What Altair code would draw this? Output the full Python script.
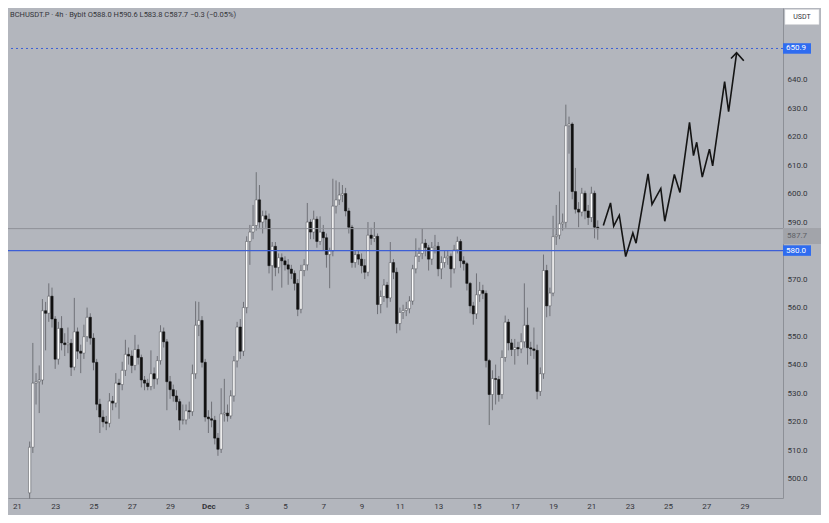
import json
import altair as alt
import pandas as pd

# ---------------- data ----------------
first_open = 495.0
start_hour = 16      # first 4h candle: Nov 21 16:00 (hours counted from Nov 21 00:00)
step_hours = 4

closes = [
    511, 533.5, 534, 534.6, 558.9, 558, 564, 556, 541.9, 552.7,
    547.6, 547, 547.5, 539.1, 551.5, 544.7, 544, 549.8, 556.6, 549.3,
    540.8, 526.1, 521.6, 519.9, 519.4, 527.2, 526.5, 533.5, 533, 538,
    543.6, 543, 539.7, 545.3, 542.5, 534.6, 533.5, 532.3, 536.8, 535,
    541.4, 551.5, 548, 534, 531.2, 529, 527, 520.5, 520.6, 523.8,
    523.5, 536.8, 553.8, 555.5, 540.8, 521.6, 521, 520.5, 514.2, 510.3,
    522.7, 523, 522, 529, 541.3, 553.2, 544.7, 560, 583.2, 586.5,
    588.8, 597.8, 590, 592.2, 591, 574.7, 581.5, 574.1, 577.5, 576.4,
    575, 573.5, 572, 568.5, 559.4, 573, 575, 590, 586.5, 591,
    583.2, 586.5, 584.5, 578.6, 579.8, 595.6, 597.8, 599.5, 600, 593.9,
    588.2, 575.8, 578.6, 577, 574.7, 572.4, 585.4, 584.3, 585, 561.1,
    563.9, 567.9, 563.4, 575.8, 572.4, 554.4, 558.3, 559, 559.6, 562.3,
    573.6, 578, 579, 582.6, 581, 577, 581, 581.5, 573.6, 575.8,
    577.5, 578, 573.6, 580.3, 583.2, 576.4, 575.4, 568.5, 560.6, 557.8,
    564.5, 566, 565, 541.4, 529.5, 535.1, 534.8, 529.5, 542.5, 554.9,
    547.6, 545.3, 546, 545.5, 548, 553.8, 545.9, 545.5, 545, 530.6,
    536.8, 573, 560.6, 565.1, 584.9, 585.4, 589.4, 589.9, 623.8, 624.4,
    600.7, 594.5, 593.5, 600.1, 593.9, 591.6, 600.1, 588.2, 587.7,
]
highs = [
    513, 547.6, 537, 539.7, 563, 562, 568.5, 567, 557, 555,
    557, 551, 553, 549, 563.4, 553, 547, 554, 560, 558,
    551, 542, 528, 524, 522, 530, 529, 537, 535, 541,
    548.7, 546, 545, 550.4, 547, 543.5, 536, 535, 545, 539,
    543, 553.8, 553, 549, 536, 533, 531, 528, 526, 526,
    527, 540, 562.2, 562, 557, 542, 524, 527, 522, 516,
    531.7, 535, 526, 531, 543, 555, 556, 562, 585, 589,
    596, 607.5, 603, 594, 594, 593, 583, 583, 579, 579,
    578, 577, 575, 573, 570, 575, 577, 596.7, 591, 594,
    592, 592, 589, 586, 581, 605.2, 604.6, 604, 603, 602,
    595, 589, 580, 580, 579, 577, 590, 588, 590, 586,
    566, 570, 569, 583, 577, 574, 560, 561, 562, 564,
    575, 584.3, 581, 587.7, 584, 582, 583, 585.5, 583, 578,
    580, 580, 579, 582, 584.9, 584, 578, 576, 569, 562,
    572, 569, 568, 566, 542, 538, 540, 536, 545, 557.2,
    556, 549, 549, 548, 551, 568.5, 560, 548, 553, 547,
    539, 578.6, 575, 567, 592.2, 596, 600.7, 593, 631.2, 627,
    625, 609, 597, 602, 601, 596, 602.4, 601, 590.6,
]
lows = [
    493, 509, 526, 523, 533, 545, 555, 553, 538.5, 540,
    545, 543, 544, 536, 538, 542, 537, 542, 548, 547,
    538, 524, 516, 518, 517, 518, 524, 525, 521, 531,
    536, 540, 537, 538, 540, 532, 531, 531, 531, 531.5,
    533, 540, 546, 524, 528, 527, 524, 517, 519, 519,
    521, 522, 535, 550, 539, 520, 516, 518, 512, 508,
    509, 520, 520, 521, 527, 539, 542, 543, 558, 575,
    584, 587, 588, 586, 588, 572, 566, 571, 572, 567,
    573, 568, 570, 566, 557, 558, 571, 573, 584, 584,
    581, 582, 580, 574, 566.8, 578, 593, 596, 597, 592,
    586, 574, 574, 575, 572, 570, 571, 582, 583, 557.7,
    558, 562, 560, 562, 570, 551, 552, 556, 557, 558,
    561, 572, 576, 577, 578, 573, 575, 579, 571, 570,
    574, 575, 567, 572, 579, 574, 573, 566, 558, 554,
    556, 562, 563, 539, 518.8, 524, 526, 527, 528, 541,
    545, 543, 540, 543, 544, 546, 540, 543, 542, 527.8,
    529, 535, 556.6, 557, 564, 582, 584, 587, 588, 614,
    598, 593, 588.2, 592, 591, 589, 590, 584.3, 583.8,
]

# hand-drawn projection (hours from Nov 21 00:00, price)
proj_hours = [735, 744, 748, 755, 763, 772, 776, 791, 796, 807, 812,
              824, 831, 843, 848, 852, 859, 868, 872, 887, 892, 902]
proj_prices = [588.8, 596.7, 588.6, 592.4, 577.9, 586.2, 582.6, 606.9, 596.2, 601.8, 590.3,
               606.7, 600.4, 625.0, 613.3, 618.0, 605.8, 615.6, 609.7, 639.3, 628.7, 649.3]
arrow_hours = [895, 902, 911]
arrow_prices = [647.4, 649.4, 646.6]

tick_hours = list(range(0, 913, 48))
tick_labels = ['21', '23', '25', '27', '29', 'Dec', '3', '5', '7', '9', '11', '13',
               '15', '17', '19', '21', '23', '25', '27', '29']
price_ticks = [500, 510, 520, 530, 540, 550, 560, 570, 580, 590, 600, 610, 620, 630, 640]

target_level = 650.9
support_level = 580.0
last_price = 587.7
header = "BCHUSDT.P · 4h · Bybit  O588.0  H590.6  L583.8  C587.7  −0.3 (−0.05%)"

# ---------------- tables ----------------
opens = [first_open] + closes[:-1]
candles = pd.DataFrame({
    "x": [start_hour + step_hours * i for i in range(len(closes))],
    "open": opens, "close": closes, "high": highs, "low": lows,
})
proj = pd.DataFrame({"x": proj_hours, "p": proj_prices, "i": range(len(proj_hours))})
arrow = pd.DataFrame({"x": arrow_hours, "p": arrow_prices, "i": range(len(arrow_hours))})
levels = pd.DataFrame({"p": [target_level, support_level],
                       "label": [f"{target_level:.1f}", f"{support_level:.1f}"]})
lastdf = pd.DataFrame({"p": [last_price], "label": [f"{last_price:.1f}"]})

# ---------------- style ----------------
W, H = 775, 490
BG = "#b3b6bd"
TXT = "#33353a"
BLUE_LINE = "#3d5fd6"
BLUE_BOX = "#2f6cf0"

xscale = alt.Scale(domain=[-4.86, 953.9], nice=False, zero=False)
yscale = alt.Scale(domain=[493.2, 665.1], nice=False, zero=False)

xaxis = alt.Axis(
    values=tick_hours, labelExpr=f"{json.dumps(tick_labels)}[round(datum.value/48)]",
    title=None, grid=False, ticks=False, domain=True, domainColor="#8d9097",
    labelColor=TXT, labelFontSize=8, labelPadding=4, labelFlush=False,
    labelFontWeight={"condition": {"test": "datum.value == 240", "value": "bold"}, "value": "normal"},
)
yaxis = alt.Axis(
    orient="right", values=price_ticks, format=".1f", title=None, grid=False, ticks=False,
    domain=True, domainColor="#8d9097", labelColor=TXT, labelFontSize=8, labelPadding=4,
    labelAlign="left",
)

X = lambda f: alt.X(f, scale=xscale, axis=xaxis)
Y = lambda f: alt.Y(f, scale=yscale, axis=yaxis)

base = alt.Chart(candles)

wicks = base.mark_rule(strokeWidth=0.8, color="#5e6066").encode(
    x=X("x:Q"), y=Y("low:Q"), y2="high:Q",
)

bodies = base.mark_bar(size=2.3, strokeWidth=0.5).encode(
    x=X("x:Q"), y=Y("open:Q"), y2="close:Q",
    fill=alt.condition("datum.close >= datum.open", alt.value("#ffffff"), alt.value("#111111")),
    stroke=alt.condition("datum.close >= datum.open", alt.value("#4a4c52"), alt.value("#111111")),
)

target_line = alt.Chart(levels).transform_filter(f"datum.p == {target_level}").mark_rule(
    color=BLUE_LINE, strokeWidth=1, strokeDash=[2, 3]
).encode(y=Y("p:Q"))

support_line = alt.Chart(levels).transform_filter(f"datum.p == {support_level}").mark_rule(
    color=BLUE_LINE, strokeWidth=1.2
).encode(y=Y("p:Q"))

last_line = alt.Chart(lastdf).mark_rule(color="#8e9197", strokeWidth=1).encode(y=Y("p:Q"))

proj_line = alt.Chart(proj).mark_line(color="#141414", strokeWidth=1.6, strokeJoin="miter").encode(
    x=X("x:Q"), y=Y("p:Q"), order="i:Q",
)
arrow_line = alt.Chart(arrow).mark_line(color="#141414", strokeWidth=1.6, strokeJoin="miter").encode(
    x=X("x:Q"), y=Y("p:Q"), order="i:Q",
)

box_path = "M-1,-0.375L1,-0.375L1,0.375L-1,0.375Z"
level_boxes = alt.Chart(levels).mark_point(
    shape=box_path, size=28 * 28, filled=True, opacity=1, color=BLUE_BOX, strokeWidth=0
).encode(x=alt.value(W + 14), y=Y("p:Q"))
level_text = alt.Chart(levels).mark_text(
    align="left", baseline="middle", fontSize=8, color="white"
).encode(x=alt.value(W + 3), y=Y("p:Q"), text="label:N")

last_path = "M-1,-0.42L1,-0.42L1,0.42L-1,0.42Z"
last_box = alt.Chart(lastdf).mark_point(
    shape=last_path, size=38 * 38, filled=True, opacity=1, color="#a2a4aa", strokeWidth=0
).encode(x=alt.value(W + 19), y=alt.value(228))
last_text = alt.Chart(lastdf).mark_text(
    align="left", baseline="middle", fontSize=8, color="#5d5f65"
).encode(x=alt.value(W + 4), y=alt.value(228), text="label:N")

usdt_path = "M-1,-0.44L1,-0.44L1,0.44L-1,0.44Z"
usdt_box = alt.Chart(lastdf).mark_point(
    shape=usdt_path, size=34 * 34, filled=True, opacity=1, color="#ffffff",
    stroke="#d8d9dc", strokeWidth=0.5
).encode(x=alt.value(W + 19), y=alt.value(9))
usdt_text = alt.Chart(lastdf).mark_text(
    align="center", baseline="middle", fontSize=7, color=TXT
).encode(x=alt.value(W + 19), y=alt.value(9), text=alt.value("USDT"))

header_text = alt.Chart(lastdf).mark_text(
    align="left", baseline="middle", fontSize=7.5, color=TXT
).encode(x=alt.value(2), y=alt.value(7), text=alt.value(header))

chart = alt.layer(
    wicks, bodies, last_line, target_line, support_line, proj_line, arrow_line,
    last_box, last_text, level_boxes, level_text, usdt_box, usdt_text, header_text,
).properties(
    width=W, height=H,
    autosize=alt.AutoSizeParams(type="none"),
    padding={"left": 0, "top": 0, "right": 38, "bottom": 17},
).configure(
    background=BG, font="Roboto"
).configure_view(stroke=None, fill=BG)

chart.save("out.html", embed_options={"renderer": "svg", "actions": False})
